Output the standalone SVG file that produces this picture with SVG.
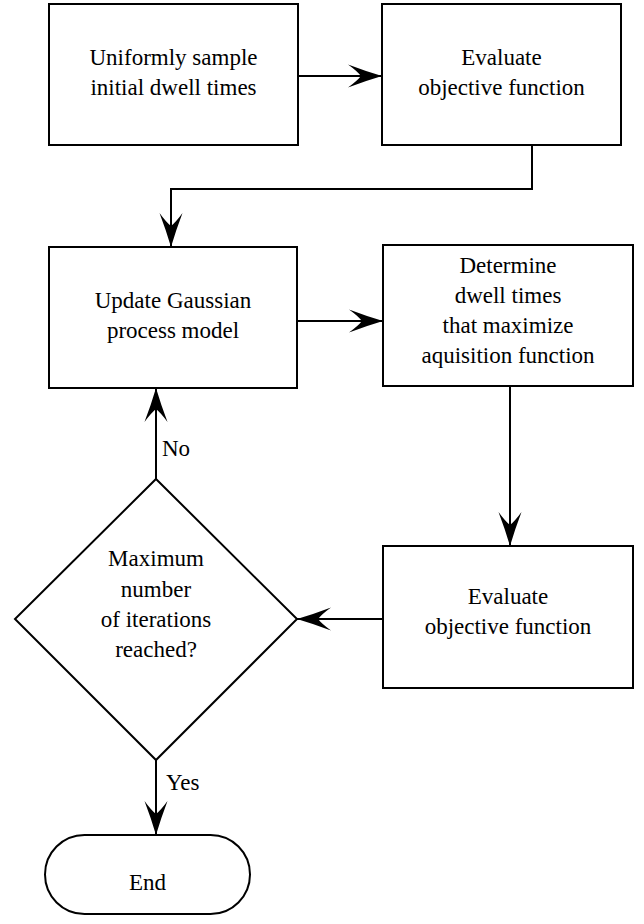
<svg xmlns="http://www.w3.org/2000/svg" width="644" height="924" viewBox="0 0 644 924">
<style>
.n{fill:#fff;stroke:#000;stroke-width:2}
text{font-family:"Liberation Serif","Times New Roman",Tinos,"Noto Serif","DejaVu Serif",serif;font-size:23px;fill:#000}
.t{text-anchor:middle}
.c{fill:none;stroke:#000;stroke-width:2;marker-end:url(#ah)}
</style>
<defs>
<marker id="ah" markerUnits="userSpaceOnUse" markerWidth="38" markerHeight="28" viewBox="-36 -14 38 28" refX="0" refY="0" orient="auto">
<path d="M0,0 Q-17,-5 -34,-11.5 Q-25,-5 -21,0 Q-25,5 -34,11.5 Q-17,5 0,0 Z" fill="#000"/>
</marker>
</defs>
<rect width="644" height="924" fill="#fff"/>
<g id="connectors">
<path class="c" d="M298,76 H382"/>
<path class="c" d="M532,145 V189 H171 V247"/>
<path class="c" d="M297,321 H383"/>
<path class="c" d="M510,386 V546"/>
<path class="c" d="M383,619 H297"/>
<path class="c" d="M156,479 V388"/>
<path class="c" d="M156,760 V835"/>
<text x="162" y="456">No</text>
<text x="166" y="790">Yes</text>
</g>
<g id="sample">
<rect class="n" x="49" y="4" width="249" height="141"/>
<text class="t" x="173.5" y="65">Uniformly sample</text>
<text class="t" x="173.5" y="95">initial dwell times</text>
</g>
<g id="evaluate1">
<rect class="n" x="382" y="4" width="239" height="141"/>
<text class="t" x="501.5" y="65">Evaluate</text>
<text class="t" x="501.5" y="95">objective function</text>
</g>
<g id="update">
<rect class="n" x="49" y="247" width="248" height="141"/>
<text class="t" x="173" y="308">Update Gaussian</text>
<text class="t" x="173" y="338">process model</text>
</g>
<g id="determine">
<rect class="n" x="383" y="245" width="250" height="141"/>
<text class="t" x="508" y="273">Determine</text>
<text class="t" x="508" y="303">dwell times</text>
<text class="t" x="508" y="333">that maximize</text>
<text class="t" x="508" y="363">aquisition function</text>
</g>
<g id="evaluate2">
<rect class="n" x="383" y="546" width="250" height="142"/>
<text class="t" x="508" y="604">Evaluate</text>
<text class="t" x="508" y="634">objective function</text>
</g>
<g id="decision">
<polygon class="n" points="156,479 297,619 156,760 15,619"/>
<text class="t" x="156" y="566">Maximum</text>
<text class="t" x="156" y="597">number</text>
<text class="t" x="156" y="627">of iterations</text>
<text class="t" x="156" y="657">reached?</text>
</g>
<g id="end">
<rect class="n" x="45" y="835" width="205" height="79" rx="39.5"/>
<text class="t" x="147.5" y="890">End</text>
</g>
</svg>
